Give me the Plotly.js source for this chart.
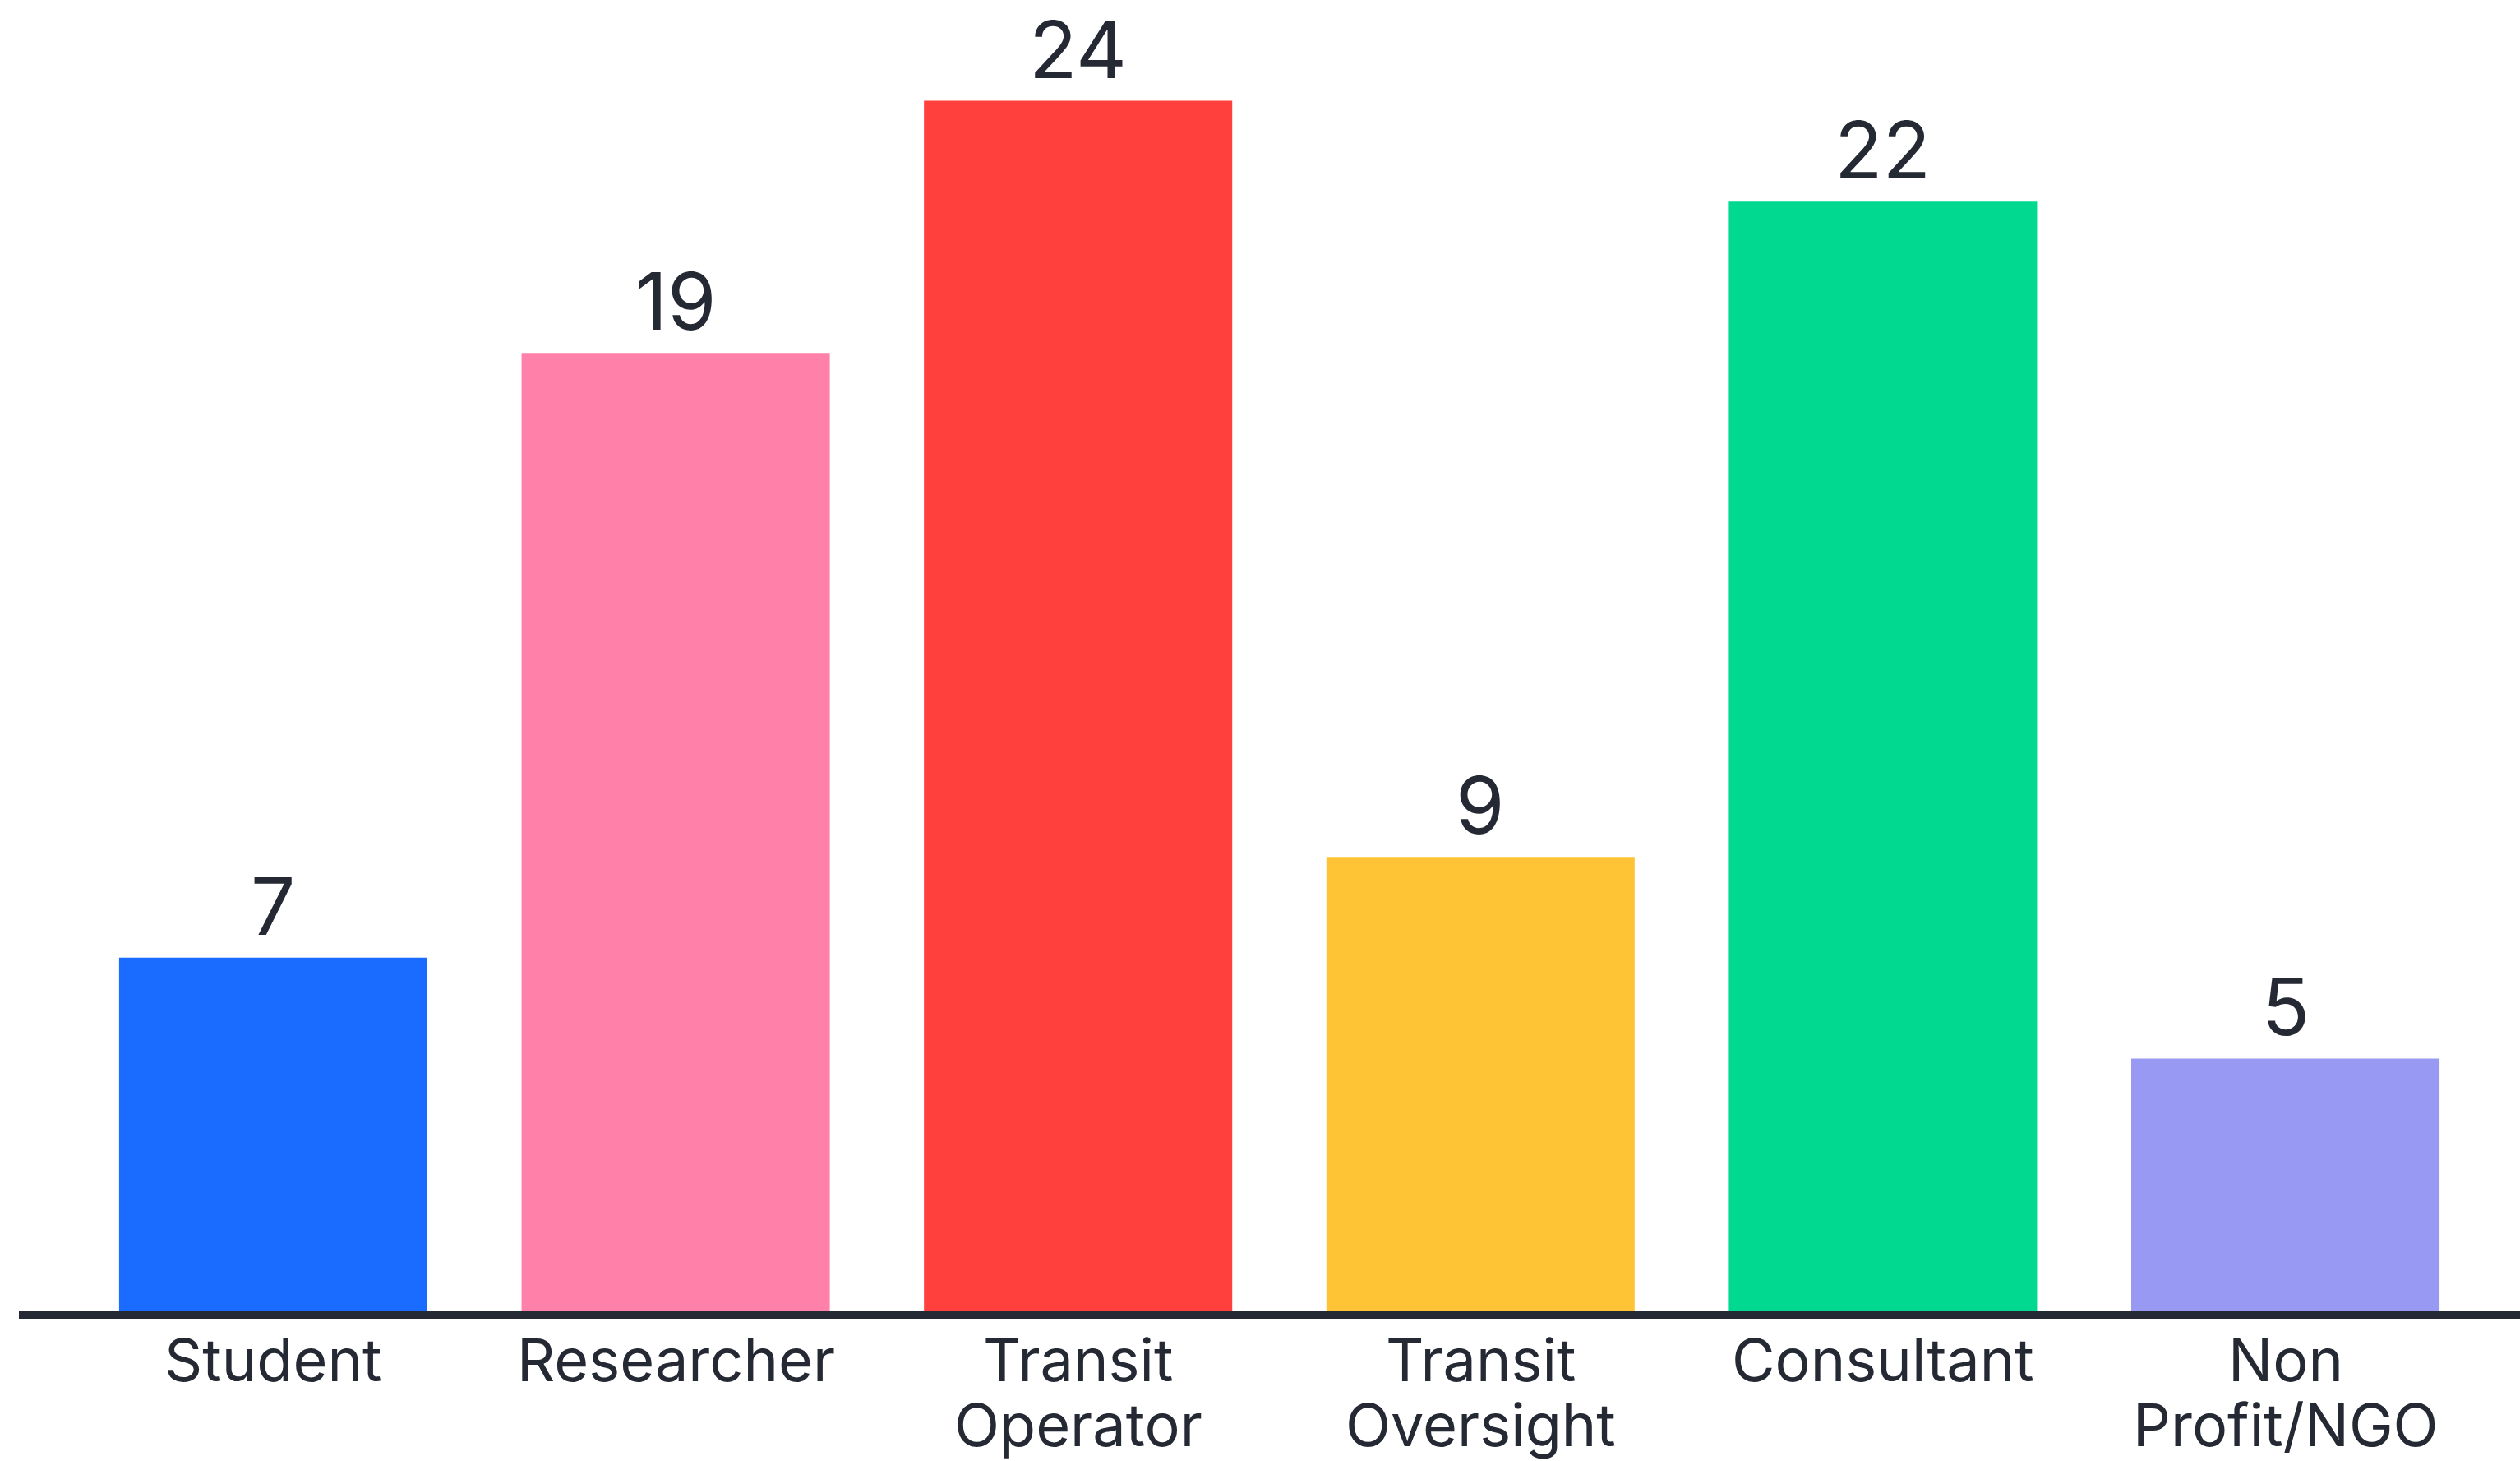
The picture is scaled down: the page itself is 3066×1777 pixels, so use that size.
<!DOCTYPE html>
<html>
<head>
<meta charset="utf-8">
<script src="https://cdn.plot.ly/plotly-3.0.1.min.js"></script>
<style>
  html, body { margin: 0; padding: 0; background: #ffffff; }
  #chart { width: 3066px; height: 1777px; }
</style>
</head>
<body>
<div id="chart"></div>
<script>
const categories = ["Student", "Researcher", "Transit Operator", "Transit Oversight", "Consultant", "Non Profit/NGO"];
const labelLine1 = ["Student", "Researcher", "Transit", "Transit", "Consultant", "Non"];
const labelLine2 = ["", "", "Operator", "Oversight", "", "Profit/NGO"];
const counts = [7, 19, 24, 9, 22, 5];
const barColors = ["#1a6bff", "#ff80a8", "#ff403d", "#ffc435", "#00d98f", "#9799f2"];

const textColor = "#242933";
const fontFamily = "Inter, 'Noto Sans', sans-serif";
const valueFont = { family: fontFamily, size: 96, color: textColor };
const tickFont = { family: fontFamily, size: 72, color: textColor };

const trace = {
  type: "bar",
  x: categories,
  y: counts,
  marker: { color: barColors, line: { width: 0 } },
  hoverinfo: "skip",
  cliponaxis: false
};

const annotations = [];
categories.forEach((c, i) => {
  annotations.push({
    x: c, y: counts[i], xref: "x", yref: "y",
    text: String(counts[i]), showarrow: false,
    xanchor: "center", yanchor: "bottom", yshift: 3,
    font: valueFont
  });
  annotations.push({
    x: c, y: 0, xref: "x", yref: "paper",
    text: labelLine1[i], showarrow: false,
    xanchor: "center", yanchor: "top", yshift: -14,
    font: tickFont
  });
  if (labelLine2[i]) {
    annotations.push({
      x: c, y: 0, xref: "x", yref: "paper",
      text: labelLine2[i], showarrow: false,
      xanchor: "center", yanchor: "top", yshift: -93,
      font: tickFont
    });
  }
});

const layout = {
  width: 3066,
  height: 1777,
  margin: { l: 23, r: 0, t: 0, b: 183, pad: 0 },
  paper_bgcolor: "#ffffff",
  plot_bgcolor: "#ffffff",
  showlegend: false,
  bargap: 0.234,
  annotations: annotations,
  xaxis: {
    type: "category",
    range: [-0.632, 5.583],
    showline: true,
    linecolor: textColor,
    linewidth: 10,
    showgrid: false,
    zeroline: false,
    ticks: "",
    showticklabels: false,
    fixedrange: true
  },
  yaxis: {
    range: [0, 26],
    visible: false,
    showgrid: false,
    zeroline: false,
    fixedrange: true
  }
};

Plotly.newPlot("chart", [trace], layout, { staticPlot: true, displayModeBar: false });
</script>
</body>
</html>
